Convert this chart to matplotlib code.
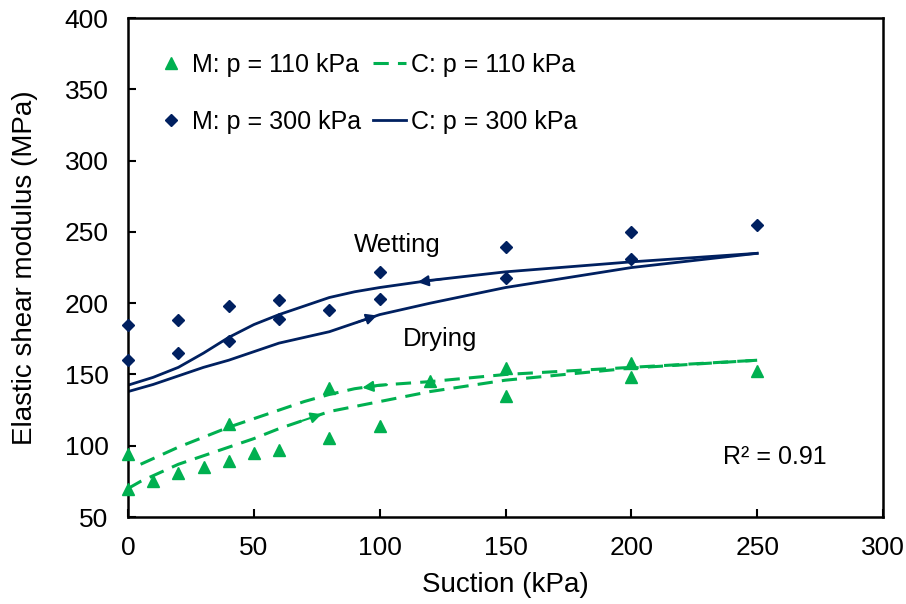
import numpy as np
import matplotlib
matplotlib.use('Agg')
import matplotlib.pyplot as plt

plt.rcParams['font.family'] = ['Liberation Sans', 'DejaVu Sans']

green = '#00B050'
navy = '#002060'

# measured points (M)
s110 = [0, 0, 10, 20, 30, 40, 40, 50, 60, 80, 80, 100, 120, 150, 150, 200, 200, 250]
g110 = [94, 70, 75, 81, 85, 89, 115, 95, 97, 140.5, 105.5, 114, 145.5, 154.5, 135, 158, 148, 152.5]
s300 = [0, 0, 20, 20, 40, 40, 60, 60, 80, 100, 100, 150, 150, 200, 200, 250]
g300 = [185, 160, 188, 165, 198, 173.5, 202, 189, 195, 222, 203, 239.5, 218, 250, 231, 255]

# computed curves (C), wetting and drying paths
sw110 = [5, 10, 20, 30, 40, 50, 60, 70, 80, 90, 100, 120, 150, 200, 250]
gw110 = [87, 91, 99, 106, 113, 119, 125, 131, 136, 140, 142.5, 145, 150, 155, 160]
sd110 = [0, 5, 10, 20, 30, 40, 50, 60, 70, 80, 100, 120, 150, 200, 250]
gd110 = [70, 75, 79, 87, 93, 99, 105, 112, 118, 124, 131, 138, 146, 154.5, 160]
sw300 = [0, 10, 20, 30, 40, 50, 60, 70, 80, 90, 100, 120, 150, 200, 250]
gw300 = [142.5, 148, 155, 165, 176, 185, 192, 198, 204, 208, 211, 216, 222, 229, 235]
sd300 = [0, 10, 20, 30, 40, 50, 60, 70, 80, 90, 100, 120, 150, 200, 250]
gd300 = [138, 143, 149, 155, 160, 166, 172, 176, 180, 186, 192, 200, 211, 225, 235]

fig = plt.figure(figsize=(9.06, 6.04), dpi=100)
ax = fig.add_axes([0.1413, 0.144, 0.8333, 0.826])

m1, = ax.plot(s110, g110, '^', color=green, ms=9, ls='none', clip_on=False, zorder=4, label='M: p = 110 kPa')
m2, = ax.plot(s300, g300, 'D', color=navy, ms=6.5, ls='none', clip_on=False, zorder=4, label='M: p = 300 kPa')
c1, = ax.plot(sw110, gw110, '--', color=green, lw=2.2, dashes=(5, 3), label='C: p = 110 kPa')
ax.plot(sd110, gd110, '--', color=green, lw=2.2, dashes=(5, 3))
c2, = ax.plot(sw300, gw300, '-', color=navy, lw=2, label='C: p = 300 kPa')
ax.plot(sd300, gd300, '-', color=navy, lw=2)

# direction arrows on the curves
def arrow(xs, ys, x0, x1, col):
    y0 = np.interp(x0, xs, ys)
    y1 = np.interp(x1, xs, ys)
    ax.annotate('', xy=(x1, y1), xytext=(x0, y0),
                arrowprops=dict(arrowstyle='-|>', color=col, lw=1.5, mutation_scale=16))

arrow(sw300, gw300, 126, 114, navy)
arrow(sd300, gd300, 90, 100, navy)
arrow(sw110, gw110, 104, 92, green)
arrow(sd110, gd110, 68, 78, green)

ax.text(107, 241, 'Wetting', fontsize=18.5, ha='center', va='center')
ax.text(124, 175, 'Drying', fontsize=18.5, ha='center', va='center')
ax.text(257, 92, 'R² = 0.91', fontsize=18, ha='center', va='center')

ax.set_xlim(0, 300)
ax.set_ylim(50, 400)
ax.set_xticks(range(0, 301, 50))
ax.set_yticks(range(50, 401, 50))
ax.tick_params(direction='in', length=6, width=1.5, labelsize=19)
ax.tick_params(axis='x', pad=14)
ax.tick_params(axis='y', pad=14)
for sp in ax.spines.values():
    sp.set_linewidth(1.8)
ax.set_xlabel('Suction (kPa)', fontsize=20, labelpad=8)
ax.set_ylabel('Elastic shear modulus (MPa)', fontsize=20, labelpad=19)

ax.legend(handles=[m1, m2, c1, c2], ncol=2, loc='upper left', bbox_to_anchor=(0.005, 0.975),
          frameon=False, fontsize=18, labelspacing=1.3, handlelength=1.3,
          handletextpad=0.2, columnspacing=0.5)

fig.savefig('out.png', dpi=100)
